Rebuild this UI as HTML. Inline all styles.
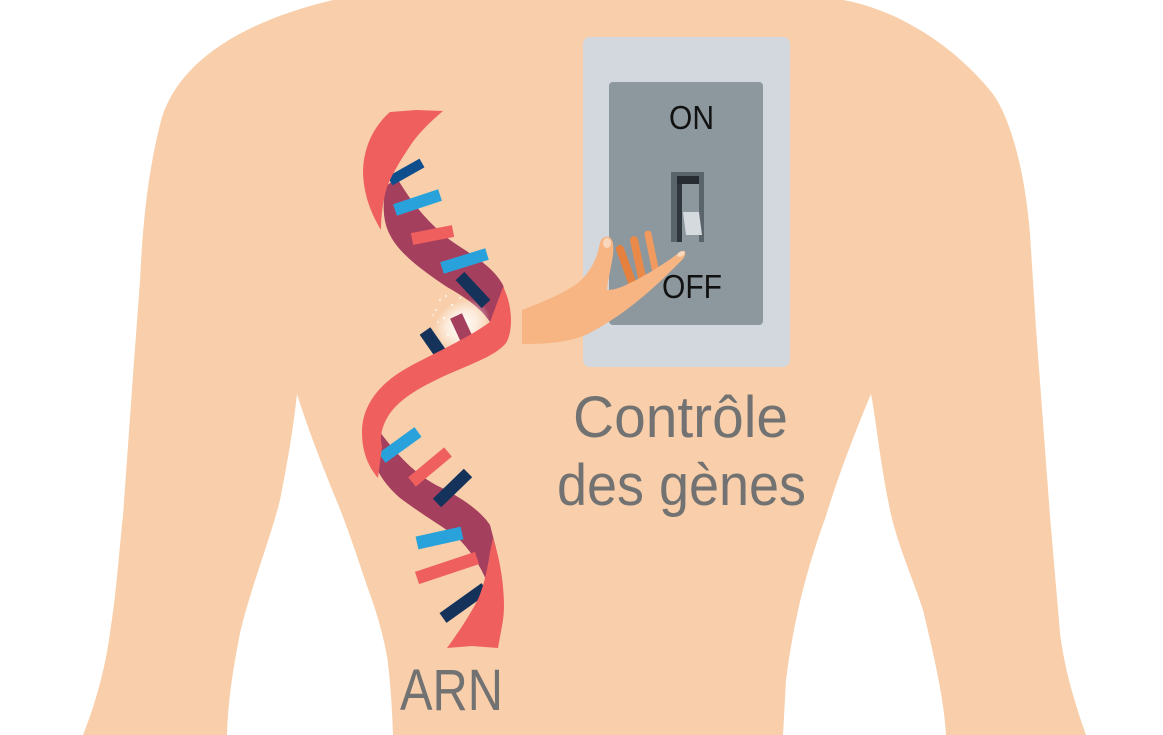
<!DOCTYPE html>
<html><head><meta charset="utf-8"><style>
html,body{margin:0;padding:0;background:#fff;width:1163px;height:735px;overflow:hidden}
svg{display:block}
</style></head><body>
<svg width="1163" height="735" viewBox="0 0 1163 735" xmlns="http://www.w3.org/2000/svg">
<defs>
<radialGradient id="spk" cx="0.5" cy="0.5" r="0.5">
<stop offset="0" stop-color="#fff" stop-opacity="0.95"/>
<stop offset="0.55" stop-color="#fff" stop-opacity="0.6"/>
<stop offset="1" stop-color="#fff" stop-opacity="0"/>
</radialGradient>
</defs>
<!-- body -->
<path fill="#F8CFAA" d="M 333 0 L 843 0 C 890 8, 950 40, 993 94 C 1010 118, 1025 170, 1030 234 L 1036 328 L 1043 422 L 1050 516 L 1060 633 C 1064 665, 1072 695, 1086 735 L 946 735 C 944 700, 935 660, 923 610 C 910 570, 895 540, 888 500 C 880 460, 876 420, 871 394 C 860 420, 840 470, 826 516 C 810 560, 795 610, 786 680 L 783 735 L 393 735 C 392 700, 389 670, 387 656 C 380 620, 372 600, 367 586 C 355 550, 345 520, 333 492 C 320 460, 305 420, 297 394 C 293 430, 288 460, 280 500 C 270 540, 250 590, 240 633 C 233 670, 228 700, 227 735 L 83 735 C 95 705, 105 670, 110 633 C 117 590, 120 540, 123 516 L 133 375 L 140 281 C 143 220, 148 170, 162 117 C 180 62, 240 22, 333 0 Z"/>

<!-- DNA -->
<!-- upper maroon -->
<path fill="#A53F5E" d="M 386 186 L 397 178 C 410 200, 425 220, 450 240 C 470 254, 492 265, 503 285 L 508 302 L 490 322 C 482 310, 470 300, 447 287 C 425 272, 400 255, 390 235 C 383 222, 382 205, 386 186 Z"/>
<!-- lower maroon -->
<path fill="#A53F5E" d="M 380 432 C 395 452, 415 475, 440 487 C 460 497, 480 510, 490 525 L 496 548 L 487 582 C 480 565, 470 550, 457 537 C 440 525, 420 513, 400 498 C 385 485, 375 470, 373 455 Z"/>
<!-- speckle -->
<ellipse cx="462" cy="325" rx="30" ry="24" transform="rotate(-35 462 325)" fill="url(#spk)"/>
<g fill="#fff" opacity="0.85">
<circle cx="440" cy="300" r="1"/><circle cx="446" cy="296" r="1"/><circle cx="436" cy="310" r="1"/><circle cx="444" cy="318" r="1.2"/><circle cx="452" cy="305" r="1"/><circle cx="438" cy="322" r="0.9"/><circle cx="448" cy="335" r="1"/><circle cx="455" cy="348" r="1"/><circle cx="470" cy="352" r="1"/><circle cx="480" cy="346" r="1"/><circle cx="487" cy="336" r="1"/><circle cx="433" cy="315" r="0.8"/><circle cx="442" cy="344" r="0.9"/><circle cx="460" cy="298" r="1"/>
</g>
<!-- bars -->
<g stroke-linecap="butt" fill="none">
<line x1="390" y1="181" x2="422" y2="163" stroke="#0E4E8C" stroke-width="10"/>
<line x1="395" y1="210" x2="440" y2="195" stroke="#29A2DC" stroke-width="12"/>
<line x1="412" y1="239" x2="453" y2="231" stroke="#EF5F5E" stroke-width="12"/>
<line x1="442" y1="268" x2="487" y2="254" stroke="#29A2DC" stroke-width="12"/>
<line x1="460" y1="276" x2="486" y2="304" stroke="#15325A" stroke-width="12"/>
<line x1="456" y1="316" x2="468" y2="342" stroke="#A53F5E" stroke-width="13"/>
<line x1="425" y1="331" x2="441" y2="354" stroke="#15325A" stroke-width="13"/>
<line x1="382" y1="458" x2="418" y2="432" stroke="#29A2DC" stroke-width="12"/>
<line x1="412" y1="482" x2="448" y2="452" stroke="#EF5F5E" stroke-width="12"/>
<line x1="437" y1="503" x2="468" y2="473" stroke="#15325A" stroke-width="12"/>
<line x1="417" y1="543" x2="462" y2="533" stroke="#29A2DC" stroke-width="13"/>
<line x1="417" y1="578" x2="477" y2="558" stroke="#EF5F5E" stroke-width="13"/>
<line x1="443" y1="618" x2="485" y2="588" stroke="#15325A" stroke-width="12"/>
</g>
<!-- top coral -->
<path fill="#EF5F5E" d="M 390 112 L 416 110 L 443 111 C 430 122, 420 132, 412 143 C 402 158, 393 172, 387 187 C 383 200, 381 215, 381 230 C 372 215, 363 195, 363 170 C 364 145, 375 125, 390 112 Z"/>
<!-- middle coral -->
<path fill="#EF5F5E" d="M 503 287 C 512 303, 514 330, 506 343 C 495 357, 465 366, 440 378 C 415 390, 395 402, 386 420 C 381 430, 380 438, 382 447 L 378 478 C 367 465, 362 450, 362 432 C 362 405, 380 383, 407 368 C 430 355, 465 340, 490 322 Z"/>
<!-- bottom coral -->
<path fill="#EF5F5E" d="M 493 538 C 502 565, 506 600, 503 620 C 501 632, 499 642, 498 648 L 472 646 L 447 648 C 460 630, 472 612, 479 597 C 485 582, 488 566, 490 552 Z"/>

<!-- switch plate -->
<rect x="583" y="37" width="207" height="330" rx="7" fill="#D3D8DE"/>
<rect x="609" y="82" width="154" height="243" rx="4" fill="#8C979E"/>
<!-- toggle -->
<rect x="671" y="172" width="33" height="70" fill="#5A646B"/>
<rect x="677" y="176" width="22" height="66" fill="#8C979E"/>
<rect x="677" y="176" width="22" height="8" fill="#262C31"/>
<rect x="677" y="184" width="5" height="58" fill="#2F363C"/>
<polygon points="683,212 699,212 702,235 686,235" fill="#D5DADF"/>
<text x="669" y="129" font-family="Liberation Sans, sans-serif" font-size="33" fill="#111" textLength="45" lengthAdjust="spacingAndGlyphs">ON</text>
<text x="662" y="298" font-family="Liberation Sans, sans-serif" font-size="33" fill="#111" textLength="60" lengthAdjust="spacingAndGlyphs">OFF</text>

<!-- hand: back fingers -->
<g stroke-linecap="round" fill="none">
<line x1="620" y1="249" x2="633" y2="285" stroke="#E5803F" stroke-width="8"/>
<line x1="634" y1="240" x2="643" y2="282" stroke="#EA8A4A" stroke-width="8"/>
<line x1="648" y1="234" x2="655" y2="268" stroke="#F09A5F" stroke-width="7"/>
</g>
<path fill="#F8B584" d="M 522 310 C 540 303, 560 295, 575 285 C 585 278, 592 268, 597 255 L 600 243 C 601 238, 605 236, 609 237 C 613 239, 614 245, 613 255 C 611 268, 608 280, 607 290 C 615 290, 622 287, 630 283 C 645 276, 660 266, 672 258 C 677 254, 681 251, 685 251 C 686 255, 684 258, 681 261 C 670 272, 655 287, 640 299 C 625 312, 605 325, 588 334 C 570 342, 550 344, 522 344 Z"/>
<ellipse cx="607" cy="243" rx="4" ry="5" fill="#F9D7BC"/>
<ellipse cx="681" cy="254" rx="4" ry="2.5" transform="rotate(-30 681 254)" fill="#F9D7BC"/>

<!-- labels -->
<text x="573" y="437" font-family="Liberation Sans, sans-serif" font-size="58" fill="#727272" textLength="215" lengthAdjust="spacingAndGlyphs">Contrôle</text>
<text x="557" y="505" font-family="Liberation Sans, sans-serif" font-size="58" fill="#727272" textLength="249" lengthAdjust="spacingAndGlyphs">des gènes</text>
<text x="400" y="710" font-family="Liberation Sans, sans-serif" font-size="58" fill="#727272" textLength="103" lengthAdjust="spacingAndGlyphs">ARN</text>
</svg>
</body></html>
